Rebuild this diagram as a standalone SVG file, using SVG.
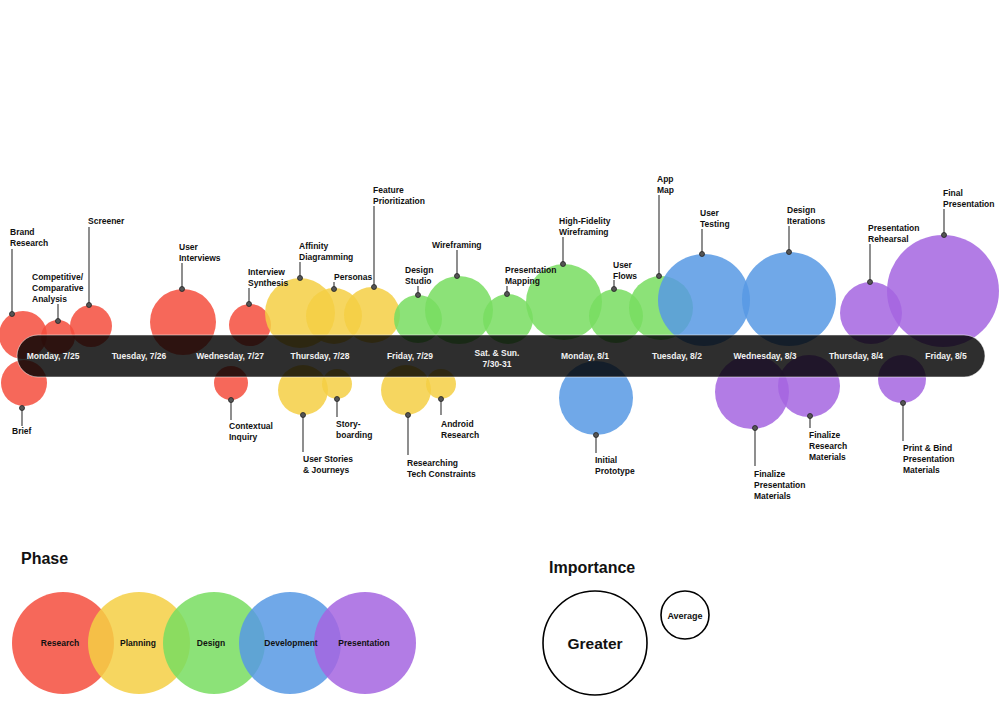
<svg xmlns="http://www.w3.org/2000/svg" width="1000" height="711" viewBox="0 0 1000 711">
<style>
text{font-family:"Liberation Sans",Arial,sans-serif;font-weight:bold;fill:#111;}
.lbl{font-size:8.5px;}
.day{font-size:8.5px;fill:#f2f2f2;text-anchor:middle;}
.leg{font-size:8.5px;text-anchor:middle;}
.title{font-size:16px;}
.r{fill:#F54E3D;fill-opacity:0.85;}
.y{fill:#F5CF44;fill-opacity:0.85;}
.g{fill:#78DD60;fill-opacity:0.85;}
.b{fill:#5799E4;fill-opacity:0.85;}
.p{fill:#A565E0;fill-opacity:0.85;}
.ld{stroke:#444;stroke-width:1.2;fill:none;}
.dot{fill:#555;stroke:#222;stroke-width:0.8;}
</style>
<rect width="1000" height="711" fill="#fff"/>
<g id="bubbles">
<circle class="r" cx="23" cy="335" r="24"/>
<circle class="r" cx="24" cy="383" r="23"/>
<circle class="r" cx="58" cy="337" r="17"/>
<circle class="r" cx="91" cy="326" r="21"/>
<circle class="r" cx="183" cy="322" r="33"/>
<circle class="r" cx="250" cy="325" r="21"/>
<circle class="r" cx="231" cy="383" r="17"/>
<circle class="y" cx="300" cy="313" r="35"/>
<circle class="y" cx="334" cy="316" r="28"/>
<circle class="y" cx="372" cy="315" r="28"/>
<circle class="y" cx="303" cy="390" r="25"/>
<circle class="y" cx="337" cy="384" r="15"/>
<circle class="y" cx="406" cy="390" r="25"/>
<circle class="y" cx="441" cy="384" r="15"/>
<circle class="g" cx="418" cy="319" r="24"/>
<circle class="g" cx="459" cy="310" r="34"/>
<circle class="g" cx="508" cy="319" r="25"/>
<circle class="g" cx="564" cy="302" r="38"/>
<circle class="g" cx="616" cy="316" r="27"/>
<circle class="g" cx="661" cy="308" r="32"/>
<circle class="b" cx="704" cy="300" r="46"/>
<circle class="b" cx="789" cy="299" r="47"/>
<circle class="b" cx="596" cy="398" r="37"/>
<circle class="p" cx="871" cy="313" r="31"/>
<circle class="p" cx="943" cy="291" r="56"/>
<circle class="p" cx="752" cy="392" r="37"/>
<circle class="p" cx="809" cy="386" r="31"/>
<circle class="p" cx="902" cy="379" r="24"/>
</g>
<g id="timeline">
<rect x="17" y="335" width="968" height="42" rx="21" fill="#000" fill-opacity="0.82" stroke="#fff" stroke-opacity="0.5" stroke-width="1"/>
<text class="day" x="53" y="359">Monday, 7/25</text>
<text class="day" x="139" y="359">Tuesday, 7/26</text>
<text class="day" x="230" y="359">Wednesday, 7/27</text>
<text class="day" x="320" y="359">Thursday, 7/28</text>
<text class="day" x="410" y="359">Friday, 7/29</text>
<text class="day" x="497" y="356">Sat. &amp; Sun.</text>
<text class="day" x="497" y="367">7/30-31</text>
<text class="day" x="585" y="359">Monday, 8/1</text>
<text class="day" x="677" y="359">Tuesday, 8/2</text>
<text class="day" x="765" y="359">Wednesday, 8/3</text>
<text class="day" x="856" y="359">Thursday, 8/4</text>
<text class="day" x="946" y="359">Friday, 8/5</text>
</g>
<g id="connectors">
<line class="ld" x1="12" y1="249" x2="12" y2="314"/>
<line class="ld" x1="22" y1="408" x2="22" y2="426"/>
<line class="ld" x1="58" y1="304" x2="58" y2="321"/>
<line class="ld" x1="89" y1="227" x2="89" y2="305"/>
<line class="ld" x1="182" y1="263" x2="182" y2="289"/>
<line class="ld" x1="249" y1="288" x2="249" y2="304"/>
<line class="ld" x1="231" y1="400" x2="231" y2="420"/>
<line class="ld" x1="300" y1="262" x2="300" y2="278"/>
<line class="ld" x1="334" y1="282" x2="334" y2="289"/>
<line class="ld" x1="374" y1="206" x2="374" y2="287"/>
<line class="ld" x1="418" y1="286" x2="418" y2="295"/>
<line class="ld" x1="457" y1="250" x2="457" y2="276"/>
<line class="ld" x1="303" y1="415" x2="303" y2="452"/>
<line class="ld" x1="337" y1="399" x2="337" y2="417"/>
<line class="ld" x1="408" y1="415" x2="408" y2="455"/>
<line class="ld" x1="441" y1="399" x2="441" y2="415"/>
<line class="ld" x1="507" y1="286" x2="507" y2="294"/>
<line class="ld" x1="563" y1="237" x2="563" y2="264"/>
<line class="ld" x1="614" y1="280" x2="614" y2="289"/>
<line class="ld" x1="659" y1="195" x2="659" y2="276"/>
<line class="ld" x1="702" y1="229" x2="702" y2="254"/>
<line class="ld" x1="596" y1="435" x2="596" y2="453"/>
<line class="ld" x1="789" y1="226" x2="789" y2="252"/>
<line class="ld" x1="870" y1="244" x2="870" y2="282"/>
<line class="ld" x1="944" y1="209" x2="944" y2="235"/>
<line class="ld" x1="755" y1="428" x2="755" y2="466"/>
<line class="ld" x1="810" y1="416" x2="810" y2="428"/>
<line class="ld" x1="903" y1="403" x2="903" y2="441"/>
</g>
<g id="brand-research"><circle class="dot" cx="12" cy="314" r="2.5"/><text class="lbl" x="10" y="234.5">Brand</text><text class="lbl" x="10" y="245.5">Research</text></g>
<g id="brief"><circle class="dot" cx="22" cy="408" r="2.5"/><text class="lbl" x="12" y="434">Brief</text></g>
<g id="competitive"><circle class="dot" cx="58" cy="321" r="2.5"/><text class="lbl" x="32" y="279.5">Competitive/</text><text class="lbl" x="32" y="290.5">Comparative</text><text class="lbl" x="32" y="301.5">Analysis</text></g>
<g id="screener"><circle class="dot" cx="89" cy="305" r="2.5"/><text class="lbl" x="88" y="223.5">Screener</text></g>
<g id="user-interviews"><circle class="dot" cx="182" cy="289" r="2.5"/><text class="lbl" x="179" y="249.5">User</text><text class="lbl" x="179" y="260.5">Interviews</text></g>
<g id="interview-synthesis"><circle class="dot" cx="249" cy="304" r="2.5"/><text class="lbl" x="248" y="274.5">Interview</text><text class="lbl" x="248" y="285.5">Synthesis</text></g>
<g id="contextual-inquiry"><circle class="dot" cx="231" cy="400" r="2.5"/><text class="lbl" x="229" y="428.5">Contextual</text><text class="lbl" x="229" y="439.5">Inquiry</text></g>
<g id="affinity"><circle class="dot" cx="300" cy="278" r="2.5"/><text class="lbl" x="299" y="248.5">Affinity</text><text class="lbl" x="299" y="259.5">Diagramming</text></g>
<g id="personas"><circle class="dot" cx="334" cy="289" r="2.5"/><text class="lbl" x="334" y="279.5">Personas</text></g>
<g id="feature-prioritization"><circle class="dot" cx="374" cy="287" r="2.5"/><text class="lbl" x="373" y="192.5">Feature</text><text class="lbl" x="373" y="203.5">Prioritization</text></g>
<g id="design-studio"><circle class="dot" cx="418" cy="295" r="2.5"/><text class="lbl" x="405" y="272.5">Design</text><text class="lbl" x="405" y="283.5">Studio</text></g>
<g id="wireframing"><circle class="dot" cx="457" cy="276" r="2.5"/><text class="lbl" x="432" y="247.5">Wireframing</text></g>
<g id="user-stories"><circle class="dot" cx="303" cy="415" r="2.5"/><text class="lbl" x="303" y="461.5">User Stories</text><text class="lbl" x="303" y="472.5">&amp; Journeys</text></g>
<g id="storyboarding"><circle class="dot" cx="337" cy="399" r="2.5"/><text class="lbl" x="336" y="426.5">Story-</text><text class="lbl" x="336" y="437.5">boarding</text></g>
<g id="tech-constraints"><circle class="dot" cx="408" cy="415" r="2.5"/><text class="lbl" x="407" y="465.5">Researching</text><text class="lbl" x="407" y="476.5">Tech Constraints</text></g>
<g id="android-research"><circle class="dot" cx="441" cy="399" r="2.5"/><text class="lbl" x="441" y="426.5">Android</text><text class="lbl" x="441" y="437.5">Research</text></g>
<g id="presentation-mapping"><circle class="dot" cx="507" cy="294" r="2.5"/><text class="lbl" x="505" y="272.5">Presentation</text><text class="lbl" x="505" y="283.5">Mapping</text></g>
<g id="hifi-wireframing"><circle class="dot" cx="563" cy="264" r="2.5"/><text class="lbl" x="559" y="223.5">High-Fidelity</text><text class="lbl" x="559" y="234.5">Wireframing</text></g>
<g id="user-flows"><circle class="dot" cx="614" cy="289" r="2.5"/><text class="lbl" x="613" y="267.5">User</text><text class="lbl" x="613" y="278.5">Flows</text></g>
<g id="app-map"><circle class="dot" cx="659" cy="276" r="2.5"/><text class="lbl" x="657" y="181.5">App</text><text class="lbl" x="657" y="192.5">Map</text></g>
<g id="user-testing"><circle class="dot" cx="702" cy="254" r="2.5"/><text class="lbl" x="700" y="215.5">User</text><text class="lbl" x="700" y="226.5">Testing</text></g>
<g id="initial-prototype"><circle class="dot" cx="596" cy="435" r="2.5"/><text class="lbl" x="595" y="462.5">Initial</text><text class="lbl" x="595" y="473.5">Prototype</text></g>
<g id="design-iterations"><circle class="dot" cx="789" cy="252" r="2.5"/><text class="lbl" x="787" y="212.5">Design</text><text class="lbl" x="787" y="223.5">Iterations</text></g>
<g id="presentation-rehearsal"><circle class="dot" cx="870" cy="282" r="2.5"/><text class="lbl" x="868" y="230.5">Presentation</text><text class="lbl" x="868" y="241.5">Rehearsal</text></g>
<g id="final-presentation"><circle class="dot" cx="944" cy="235" r="2.5"/><text class="lbl" x="943" y="195.5">Final</text><text class="lbl" x="943" y="206.5">Presentation</text></g>
<g id="finalize-presentation"><circle class="dot" cx="755" cy="428" r="2.5"/><text class="lbl" x="754" y="476.5">Finalize</text><text class="lbl" x="754" y="487.5">Presentation</text><text class="lbl" x="754" y="498.5">Materials</text></g>
<g id="finalize-research"><circle class="dot" cx="810" cy="416" r="2.5"/><text class="lbl" x="809" y="437.5">Finalize</text><text class="lbl" x="809" y="448.5">Research</text><text class="lbl" x="809" y="459.5">Materials</text></g>
<g id="print-bind"><circle class="dot" cx="903" cy="403" r="2.5"/><text class="lbl" x="903" y="450.5">Print &amp; Bind</text><text class="lbl" x="903" y="461.5">Presentation</text><text class="lbl" x="903" y="472.5">Materials</text></g>
<g id="legend-phase">
<text class="title" x="21" y="564">Phase</text>
<circle class="r" cx="63" cy="643" r="51"/>
<circle class="y" cx="139" cy="643" r="51"/>
<circle class="g" cx="214" cy="643" r="51"/>
<circle class="b" cx="290" cy="643" r="51"/>
<circle class="p" cx="365" cy="643" r="51"/>
<text class="leg" x="60" y="645.5">Research</text>
<text class="leg" x="138" y="645.5">Planning</text>
<text class="leg" x="211" y="645.5">Design</text>
<text class="leg" x="291" y="645.5">Development</text>
<text class="leg" x="364" y="645.5">Presentation</text>
</g>
<g id="legend-importance">
<text class="title" x="549" y="573">Importance</text>
<circle cx="595" cy="643" r="52" fill="none" stroke="#000" stroke-width="1.6"/>
<text x="595" y="649" font-size="15.5" text-anchor="middle">Greater</text>
<circle cx="685" cy="615" r="24" fill="none" stroke="#000" stroke-width="1.6"/>
<text x="685" y="618.5" font-size="9" text-anchor="middle">Average</text>
</g>
</svg>
